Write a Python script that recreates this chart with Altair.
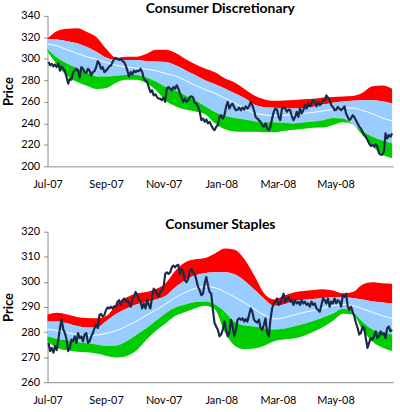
import altair as alt
import pandas as pd

# ---------------- data ----------------
price_start, price_end, n_price = "2007-07-02", "2008-06-30", 210
band_start, band_end, n_band = "2007-07-01", "2008-06-30", 36

# Consumer Discretionary
cd_price = [
    297, 294, 295.4, 293, 294.8, 292.3, 296, 289, 293, 290.8,
    288.6, 283, 277, 281.5, 280.6, 287.7, 289, 290.8, 289, 282.5,
    292.3, 290.8, 287.7, 286.8, 290.8, 289, 284.6, 287.7, 288.6, 292.3,
    298, 295.4, 290.8, 292.3, 287.7, 289, 290.8, 293, 293.8, 297,
    300, 301, 300, 299, 300, 298, 297, 293.8, 289, 283.7,
    287.7, 285.5, 289, 287.7, 289, 288.6, 290.8, 287.7, 281.5, 280,
    278.5, 273.8, 269, 270.8, 266, 267, 264.6, 263,
    263, 261.5, 264, 260, 272.3, 273.8, 272.3, 270.8, 273.8, 272.3,
    275.4, 272.3, 267.7, 264, 260, 263, 260, 261.5, 264.6, 265.2,
    264, 259, 258.4, 255.3, 250.7, 243, 244.5, 241.4, 243.6, 239.9,
    241.4, 238.3, 235.3, 233.7, 236.8, 238.3, 246, 247.6, 244.5, 247.6,
    255.3, 260, 253.8, 256.9, 258.4, 254.7, 252.2, 252.8, 254.7, 252.2,
    254.7, 252.8, 255.8, 253.8, 255.8, 260, 256.9, 252.2, 246, 244.5,
    243, 241.4, 238.3, 236.8, 239.9, 235.3, 233.7, 236.8, 244.5, 250.7,
    253.8, 252.8,
    246, 243, 253.8, 254.7, 253.8, 250.7, 252.8, 252.2, 246.8, 243,
    246, 250.7, 246, 253.8, 249.2, 252.2, 256.9, 253.8, 258.4, 255.9,
    259, 261.4, 260, 255.9, 260, 256.9, 258.4, 261.4, 261.4, 266,
    263.9, 261.4, 256.9, 255.3, 252.2, 252.8, 255.3, 253.8, 252.2, 253.8,
    255.9, 249.2, 246, 243, 244.5, 247.6, 246, 243, 239.9, 236.8,
    235.3, 232.2, 229.1, 227.6, 224.5, 221.4, 219, 219.9, 218.4, 220.8,
    218.4, 212.3, 210.8, 210.8, 213.8, 230.7, 226, 229.1, 227.6, 230.7,
]
cd_upper2 = [319, 326, 328, 328.5, 325, 320, 309, 301, 302, 302,
             304.5, 308.5, 308.5, 305.5, 300, 295, 291, 287.5, 282, 278,
             272, 266, 262.5, 261, 261.3, 261.7, 262.4, 262.8, 264, 264.5,
             265, 265.5, 268.5, 274.5, 275.3, 272.2]
cd_upper1 = [318.5, 318, 316.5, 314.5, 311, 306.5, 301, 299, 299, 299,
             298, 297.5, 297, 294, 289.5, 285, 280, 276.5, 272.5, 268,
             263.5, 257.5, 255, 254.6, 254, 253.8, 254.3, 255.5, 257.5, 259.3,
             260.3, 261, 261.5, 261.5, 260.5, 258.5]
cd_mid = [314, 312, 308.5, 305, 302, 299.5, 296.5, 294, 292.5, 291.5,
          290.5, 289, 286.3, 284, 280, 275.5, 271.5, 268, 263.5, 259,
          254, 249.5, 248, 247.3, 247.5, 248, 249.2, 250.3, 251.5, 253,
          254.3, 254.3, 252, 249, 245, 242.4]
cd_lower1 = [309, 301, 295.5, 291.5, 287, 283.7, 283.7, 284.3, 285, 285,
             283, 279, 273.8, 270.5, 266, 261.5, 256, 250.5, 247, 245,
             243.5, 242, 240.8, 241, 240.5, 239.9, 240.8, 241.8, 243, 245,
             244.5, 239, 233, 227.5, 224, 221.6]
cd_lower2 = [307, 294, 284, 278.5, 275, 272, 273, 278, 280.5, 280.5,
             277.5, 271, 261, 256, 252.8, 251, 248.5, 240, 234.5, 232.5,
             232.2, 232.2, 231.8, 231.8, 233, 234, 235, 236, 236.2, 238.5,
             241, 239, 229, 219, 211, 207.6]

# Consumer Staples
cs_price = [
    275.7, 272.4, 273.7, 271.8, 274.4, 272.8, 277, 281.6, 285.1, 281,
    279.6, 277, 272.4, 273.7, 277, 276.3, 278.3, 275.7, 279.6, 277.6,
    278.3, 276.3, 279, 279.6, 275.7, 276.3, 278.3, 279.6, 281.6, 282.9,
    281.6, 286.8, 287.2, 286.2, 286.8, 288.8, 289.8, 289.4, 290.1, 289.4,
    290.3, 290.1, 292.1, 292.7, 290.8, 292.7, 293.4, 292.1, 292.7, 291.4,
    290.1, 293.4, 294, 296, 294.7, 293, 292.4, 289.4, 291.4, 289.4,
    292.7, 290.8, 289.4, 294, 297.3, 296.6, 295.3, 294,
    296, 296.6, 297.9, 303.2, 303.8, 303.2, 303.8, 305.8, 306.5, 305.8,
    306.5, 306.8, 303.2, 305.1, 303.8, 300.6, 299.9, 301.2, 304.5, 305.1,
    303.8, 303.2, 300.6, 298, 296.6, 294.7, 295.3, 299.3, 301.9, 298.6,
    296, 295.3, 288.8, 283.6, 282.2, 280.9, 278.3, 279, 280.9, 284.2,
    280.9, 278.3, 279.6, 284.9, 282.2, 278.3, 280.9, 284.9, 285.5, 284.9,
    285.5, 284.2, 285.1, 284.2, 286.8, 289.4, 288.1, 284.9, 284.2, 283.8,
    284.9, 281.6, 280.9, 282.9, 285.5, 279.6, 278.3, 284.9, 289.4, 291.4,
    292.1, 293.4,
    290.8, 291.4, 293.4, 295.3, 292.1, 293.4, 294, 292.1, 292.7, 290.8,
    292.7, 291.4, 292.1, 290.8, 292.7, 291.4, 292.1, 290.8, 291.4, 290.1,
    292.1, 290.8, 291.4, 289.4, 288.8, 288.1, 290.8, 293.4, 292.7, 291.4,
    293.4, 290.1, 292.1, 291.4, 293.4, 291.4, 292.7, 292.1, 290.1, 294.7,
    294, 295.3, 290.1, 288.8, 290.1, 288.1, 286.2, 283.6, 281.6, 279,
    279.6, 282.2, 281.6, 277.6, 273.7, 275.7, 277.6, 277, 278.3, 280.3,
    277.6, 278.3, 280.3, 279, 279.6, 277.6, 281.6, 282.2, 280.3, 280.9,
]
cs_upper2 = [287, 287.7, 287, 286, 285.6, 285.5, 286.5, 291, 293.8, 295.4,
             296, 297.2, 299.5, 304.5, 307.8, 309, 309.5, 311.3, 313.3, 312.8,
             309, 302.5, 295.5, 293, 294.5, 295.8, 296.4, 296.8, 297.1, 296.6,
             295.5, 296, 299, 299.9, 299.5, 299.3]
cs_upper1 = [284.2, 284.2, 283.5, 282.4, 281.8, 281.8, 284.5, 287.3, 289.3, 291,
             292, 293, 294.5, 298, 300.7, 302.6, 303.5, 303.8, 303.8, 303,
             300.5, 297, 293.3, 290.5, 291, 292.5, 292.9, 293.2, 293.6, 293.9,
             293.9, 293.6, 293, 292.3, 291.8, 291.4]
cs_mid = [281.2, 280.6, 279.8, 279, 278.6, 278.8, 279.5, 280.6, 282.3, 284.3,
          286.6, 288.8, 291.2, 293.8, 295.8, 297.4, 298.1, 297.7, 296, 294,
          291.7, 289.2, 286.8, 285.2, 285.7, 286.8, 287.8, 288.6, 289.6, 290.5,
          291, 290.6, 289.2, 287.9, 286.5, 285.5]
cs_lower1 = [278.3, 277.2, 276.6, 276, 275.5, 275, 274.4, 274.6, 276.2, 278.8,
             281.4, 284.5, 287.5, 289.8, 291, 292, 292.2, 291, 288, 284,
             282.6, 282.2, 281.5, 281, 281.3, 282.2, 283.2, 284.4, 285.8, 287.4,
             289.3, 288, 284, 281, 279.7, 279]
cs_lower2 = [276.3, 273.5, 272.7, 272.1, 271.9, 271.4, 270.5, 269.9, 270.4, 272.5,
             276.7, 280.5, 283.5, 286.5, 288, 289.5, 290.5, 289, 280, 274.6,
             273.1, 273.4, 274.5, 276.3, 277, 277.4, 278.4, 280.1, 282, 284.5,
             287.3, 287, 280.8, 276.2, 273.8, 272.4]

tick_dates = [(2007, 7), (2007, 9), (2007, 11), (2008, 1), (2008, 3), (2008, 5)]

# ---------------- chart ----------------
price_dates = pd.date_range(price_start, price_end, periods=n_price)
band_dates = pd.date_range(band_start, band_end, periods=n_band)

FONT = "Lato"
RED, BLUE, GREEN, NAVY = "#FF0000", "#99CCFF", "#00CC00", "#1B2A48"


def panel(title, price, u2, u1, mid, l1, l2, ydom, yvals):
    bands = pd.DataFrame({"date": band_dates, "u2": u2, "u1": u1,
                          "mid": mid, "l1": l1, "l2": l2})
    pr = pd.DataFrame({"date": price_dates, "price": price})
    xsc = alt.Scale(domain=[alt.DateTime(year=2007, month=7, date=1),
                            alt.DateTime(year=2008, month=7, date=1)])
    xax = alt.Axis(values=[alt.DateTime(year=y, month=m, date=1) for y, m in tick_dates],
                   format="%b-%y", ticks=False, labelPadding=12, grid=False,
                   domainColor="#8C8C8C", labelFlush=False, labelOverlap=False)
    xenc = alt.X("date:T", title=None, scale=xsc, axis=xax)
    ysc = alt.Scale(domain=ydom, nice=False, zero=False)
    yax = alt.Axis(values=yvals, grid=False, tickSize=4, tickColor="#8C8C8C",
                   domainColor="#8C8C8C", labelPadding=4, titlePadding=5,
                   titleFontWeight="bold", titleFontSize=13, format="d",
                   labelOverlap=False, labelFlush=False, labelBound=False)

    def Y(field):
        return alt.Y(field, type="quantitative", scale=ysc, axis=yax, title="Price")

    base = alt.Chart(bands)
    red = base.mark_area(color=RED, interpolate="monotone").encode(
        x=xenc, y=Y("u2"), y2="u1:Q")
    blue = base.mark_area(color=BLUE, interpolate="monotone").encode(
        x=xenc, y=Y("u1"), y2="l1:Q")
    green = base.mark_area(color=GREEN, interpolate="monotone").encode(
        x=xenc, y=Y("l1"), y2="l2:Q")
    white = base.mark_line(color="white", strokeWidth=1, interpolate="monotone").encode(
        x=xenc, y=Y("mid"))
    line = alt.Chart(pr).mark_line(color=NAVY, strokeWidth=2.2, strokeJoin="round").encode(
        x=xenc, y=Y("price"))
    return alt.layer(red, blue, green, white, line).properties(
        width=349, height=152,
        title=alt.TitleParams(title, font=FONT, fontSize=14, fontWeight="bold",
                              color="#000000", anchor="middle", offset=-6),
    )


top = panel("Consumer Discretionary", cd_price, cd_upper2, cd_upper1, cd_mid,
            cd_lower1, cd_lower2, [200, 340], [200, 220, 240, 260, 280, 300, 320, 340])
bottom = panel("Consumer Staples", cs_price, cs_upper2, cs_upper1, cs_mid,
               cs_lower1, cs_lower2, [260, 320], [260, 270, 280, 290, 300, 310, 320])

chart = (
    alt.vconcat(top, bottom, spacing=29)
    .properties(padding={"left": 2, "top": 0, "right": 5, "bottom": 0},
                background="white")
    .configure_view(stroke=None)
    .configure_axis(labelFont=FONT, labelFontSize=11, labelColor="#000000",
                    titleFont=FONT, titleColor="#000000", labelOverlap=False)
)

chart.save("out.html", embed_options={"renderer": "svg", "actions": False})
